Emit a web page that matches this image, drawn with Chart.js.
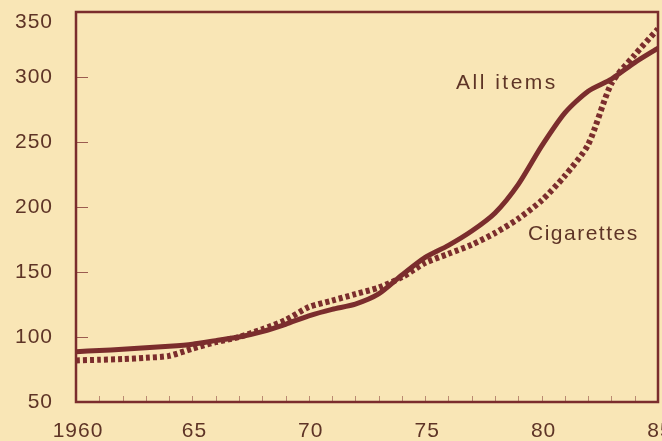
<!DOCTYPE html>
<html>
<head>
<meta charset="utf-8">
<script src="https://cdn.jsdelivr.net/npm/chart.js@4.4.1/dist/chart.umd.min.js"></script>
<style>
  html, body { margin: 0; padding: 0; background: #f9e6b6; }
  #wrap { width: 662px; height: 441px; }
</style>
</head>
<body>
<div id="wrap"><canvas id="cpi"></canvas></div>
<script>
// Consumer price index, 1967 = 100
const years = [1960, 1961, 1962, 1963, 1964, 1965, 1966, 1967, 1968, 1969, 1970, 1971, 1972,
               1973, 1974, 1975, 1976, 1977, 1978, 1979, 1980, 1981, 1982, 1983, 1984, 1985];
const allItems = [88.7, 89.6, 90.6, 91.7, 92.9, 94.5, 97.2, 100, 104.2, 109.8, 116.3, 121.3, 125.3,
                  133.1, 147.7, 161.2, 170.5, 181.5, 195.4, 217.4, 246.8, 272.4, 289.1, 298.4, 311.1, 322.2];
const cigarettes = [82, 82.5, 83, 84, 85.5, 91, 96, 100, 106, 113, 123, 128, 133,
                    138, 146, 157, 164, 171, 180, 191, 205, 224, 248, 295, 317, 337];

const yTicks = [50, 100, 150, 200, 250, 300, 350];
const xTicks = [1960, 1965, 1970, 1975, 1980, 1985];
const xTickLabels = ['1960', '65', '70', '75', '80', '85'];

const BG = '#f9e6b6';
const INK = '#7b2d2d';
const TEXT = '#5e3426';
const FONT = '21px "Liberation Sans", Arial, sans-serif';

const toPoints = vals => years.map((yr, i) => ({ x: yr, y: vals[i] }));

// background, frame, inward ticks, labels
const framePlugin = {
    id: 'frame',
    beforeDraw(chart) {
        const ctx = chart.ctx;
        ctx.save();
        ctx.fillStyle = BG;
        ctx.fillRect(0, 0, chart.width, chart.height);
        ctx.restore();
    },
    afterDatasetsDraw(chart) {
        const { ctx, chartArea: a, scales: { x, y } } = chart;
        ctx.save();

        // minor ticks every year along the bottom
        ctx.strokeStyle = 'rgba(123,45,45,0.5)';
        ctx.lineWidth = 1;
        years.forEach(yr => {
            const px = Math.round(x.getPixelForValue(yr)) + 0.5;
            ctx.beginPath();
            ctx.moveTo(px, a.bottom);
            ctx.lineTo(px, a.bottom - 6);
            ctx.stroke();
        });

        // y ticks pointing inward
        ctx.strokeStyle = 'rgba(123,45,45,0.75)';
        yTicks.forEach(v => {
            const py = Math.round(y.getPixelForValue(v)) + 0.5;
            ctx.beginPath();
            ctx.moveTo(a.left, py);
            ctx.lineTo(a.left + 12, py);
            ctx.stroke();
        });

        // frame
        ctx.strokeStyle = INK;
        ctx.lineWidth = 2.5;
        ctx.strokeRect(a.left, a.top, a.right - a.left, a.bottom - a.top);

        // tick labels
        ctx.fillStyle = TEXT;
        ctx.font = FONT;
        ctx.letterSpacing = '1px';
        ctx.textAlign = 'right';
        ctx.textBaseline = 'middle';
        yTicks.forEach(v => {
            const py = Math.max(y.getPixelForValue(v), 22);
            ctx.fillText(String(v), 53, py);
        });
        ctx.textAlign = 'center';
        xTicks.forEach((v, i) => {
            ctx.fillText(xTickLabels[i], x.getPixelForValue(v) + 2, 431);
        });

        // series labels
        ctx.textAlign = 'left';
        ctx.letterSpacing = '2.5px';
        ctx.fillText('All items', 456, 83);
        ctx.letterSpacing = '1.5px';
        ctx.fillText('Cigarettes', 528, 234);
        ctx.restore();
    }
};

new Chart(document.getElementById('cpi'), {
    type: 'line',
    data: {
        datasets: [{
            label: 'All items',
            data: toPoints(allItems),
            borderColor: INK,
            borderWidth: 5,
            pointRadius: 0,
            tension: 0.25,
            fill: false
        }, {
            label: 'Cigarettes',
            data: toPoints(cigarettes),
            borderColor: INK,
            borderWidth: 6,
            borderDash: [4, 3],
            borderCapStyle: 'butt',
            pointRadius: 0,
            tension: 0.25,
            fill: false
        }]
    },
    options: {
        responsive: true,
        maintainAspectRatio: false,
        animation: false,
        layout: { padding: { left: 76, right: 4, top: 12, bottom: 39 } },
        plugins: {
            legend: { display: false },
            tooltip: { enabled: false }
        },
        scales: {
            x: { type: 'linear', min: 1960, max: 1985, display: false },
            y: { min: 50, max: 350, display: false }
        }
    },
    plugins: [framePlugin]
});
</script>
</body>
</html>
